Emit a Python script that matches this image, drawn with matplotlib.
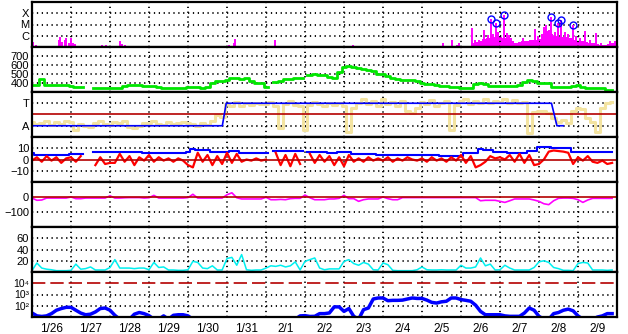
import numpy as np
import matplotlib
matplotlib.use("Agg")
import matplotlib.pyplot as plt

plt.rcParams['font.family'] = ['Liberation Sans', 'DejaVu Sans']

# days since 1/26 00:00, 3-hourly samples
t3 = np.arange(0, 15, 0.125)
day_labels = ['1/26', '1/27', '1/28', '1/29', '1/30', '1/31', '2/1', '2/2',
              '2/3', '2/4', '2/5', '2/6', '2/7', '2/8', '2/9']
nan = np.nan

# X-ray flux (log10 W/m2), spikes
xr_t = [0.03, 0.11, 0.54, 0.69, 0.73, 0.76, 0.85, 0.88, 0.95, 1.0, 1.05, 1.10, 1.15,
        1.35, 1.41, 1.79, 1.91, 2.04, 2.09, 2.26, 2.32, 2.38, 2.44, 2.85, 4.71, 5.05,
        5.09, 5.17, 5.21, 6.24, 8.22, 10.55, 10.77, 10.91, 10.95, 11.16, 11.29, 11.36,
        11.46, 11.60, 11.69, 11.77, 11.83, 11.90, 11.96, 12.03, 12.10, 12.18, 12.23,
        12.29, 12.59, 12.89, 12.97, 13.12, 13.19, 13.26, 13.31, 13.40, 13.48, 13.56,
        13.66, 13.74, 13.87, 13.96, 14.04, 14.17, 14.30, 14.47, 14.60, 14.83, 14.94]
xr_v = [-6.52, -6.79, -6.97, -6.42, -6.15, -6.58, -6.36, -6.21, -6.67, -6.18, -6.67,
        -6.73, -6.91, -6.91, -6.94, -6.79, -6.79, -6.94, -6.94, -6.45, -6.76, -6.82,
        -6.91, -6.97, -6.97, -6.79, -6.88, -6.67, -6.33, -6.42, -6.82, -6.61, -6.42,
        -6.79, -6.67, -6.88, -5.30, -6.42, -6.36, -5.45, -5.97, -4.55, -5.82, -4.91,
        -5.67, -6.58, -4.15, -5.76, -5.97, -6.18, -6.18, -5.36, -6.06, -5.21, -5.06,
        -5.45, -4.36, -5.67, -4.91, -4.64, -5.67, -5.82, -5.00, -6.06, -6.18, -5.61,
        -6.36, -5.76, -6.67, -6.48, -6.48]
# active-period background level, every 0.1 day from 11.1 to 15.0
xr_base_t = np.round(np.arange(11.1, 15.05, 0.1), 2)
xr_base_v = [-6.9, -6.88, -6.6, -6.55, -6.5, -6.3, -6.2, -6.1, -6.1, -6.15,
             -6.2, -6.25, -6.5, -6.6, -6.55, -6.45, -6.5, -6.4, -6.35, -6.3,
             -5.8, -5.6, -5.8, -6.0, -6.1, -6.1, -6.15, -6.2, -6.4, -6.45,
             -6.5, -6.55, -6.6, -6.65, -6.75, -6.85, -6.85, -6.7, -6.65, -6.6]
flare_t = [11.77, 11.90, 12.10, 13.31, 13.48, 13.56, 13.87]
flare_v = [-4.55, -4.91, -4.15, -4.36, -4.91, -4.64, -5.00]

# solar wind speed (km/s)
speed = [378, 380, 444, 375, 378, 380, 378, 376,
         362, 360, 358, nan, nan, 344, 344, 342,
         344, 342, 345, 368, 381, 383, 380, 372,
         367, 366, 360, 348, 344, 342, 344, 346,
         352, 354, 350, 342, 360, 395, 418, 425,
         428, 450, 455, 448, 452, 420, 405, 400,
         358, nan, 410, 420, 440, 448, 452, 458,
         nan, 490, 495, 490, 488, 465, 460, 520,
         580, 590, 575, 568, 555, 540, 532, 505,
         495, 480, 460, 445, 432, 430, 428, 420,
         395, 392, 385, 375, 365, 362, 360, 358,
         348, 342, 340, 385, 395, 390, 370, 372,
         372, 368, 370, 372, 375, 410, 432, 420,
         405, 400, 398, 360, 352, 352, 350, 372,
         376, 350, 348, 348, 346, 345, 322, 318]

# IMF angle (deg) and sector
phi = [120, 100, 110, 125, 95, 118, 100, 130,
       120, 60, 105, 90, 80, 110, 125, 100,
       95, 120, 110, 130, 80, 70, 85, 110,
       112, 128, 105, 95, 120, 100, 115, 118,
       115, 105, 88, 110, 95, 130, 175, 160,
       260, 250, 280, 245, 270, 255, 275, 265,
       265, 280, 250, 70, 262, 290, 255, 245,
       60, 255, 280, 265, 250, 275, 255, 268,
       250, 40, 230, 270, 300, 265, 285, 250,
       300, 260, 280, 245, 290, 210, 195, 230,
       280, 260, 295, 250, 270, 285, 60, 255,
       285, 300, 265, 290, 275, 305, 270, 290,
       280, 300, 270, 295, 270, 280, 35, 200,
       210, 205, 195, 150, 120, 135, 110, 210,
       230, 220, 150, 120, 40, 230, 270, 280]
sector_t = [0, 4.88, 4.98, 13.32, 13.46, 13.62]
sector_v = [90, 90, 270, 270, 90, 90]

# IMF Bt and Bz (nT)
bt = [5.5, 4, 4, 4, 4, 4.2, 4, 4,
      4.5, 4.5, 4.5, nan, nan, 6.4, 6.4, 6.4,
      6.4, 6.4, 7, 7, 7, 7, 7, 5.5,
      5.5, 5.5, 5.5, 5.5, 5.5, 5.5, 5.5, 6,
      7, 9.7, 8.5, 8.5, 8.5, 6.7, 7, 7,
      7, 8, 8, 5.5, 5.5, 5.5, 5.5, 5.5,
      5.5, nan, 7.5, 7.5, 7.5, 7.5, 7.5, 7.5,
      nan, 6.4, 6.4, 6.4, 6.4, 6, 6, 7,
      7, 7, 4.8, 4.8, 4.8, 4.8, 4.8, 3.6,
      3.6, 3.6, 3.6, 3.6, 3.6, 3.6, 3.6, 3.6,
      3.6, 3.6, 3.6, 3.6, 3, 3, 3, 3,
      3, 5.5, 5.5, 5.5, 9, 8.5, 8.5, 7,
      7, 7, 5.5, 5.5, 5.5, 5.5, 7.5, 7.5,
      11, 11, 11, 10, 10, 10, 10, 7,
      7, 7, 6.4, 6.4, 6.4, 6.4, 6.4, 6.4]
bz = [-1, 2, -2, 3, -1, 2, -3, 1,
      2, -2, 3, nan, nan, -5, 2, -4,
      -3, -3, 5, -2, 3, -5, 2, -1,
      4, -2, 2, -1, 1, -2, 1, -1,
      -5, -7, 6, -2, 4, -5, 3, -4,
      6, -3, 5, -2, 0, -1, 1, -1,
      0, nan, 6, -5, 4, -6, 5, -4,
      nan, 5, -3, 4, -2, 3, -5, 2,
      -6, 4, -2, 1, -2, 2, -1, 1,
      -1, 2, -2, 1, -1, 2, 0, -1,
      1, -2, 2, -1, 1, -2, 2, -1,
      4, -3, 3, -7, -5, -2, 3, 1,
      2, 0, 4, -2, 5, -3, 4, -5,
      -4, 0, 7, 8, 7.5, 7, 6, -4,
      2, -1, 3, -2, -3, -1, -4, -3]

# Dst (nT)
dst = [-7, -22, -20, -7, -7, -7, -7, -7,
       0, -11, -11, -7, -7, -7, -7, -7,
       8, -7, -7, -5, -4, -4, -4, -7,
       -5, 11, -7, -7, -7, -7, -7, -7,
       -4, 18, -7, -7, -7, -7, -7, -7,
       15, 28, -5, -13, -13, -13, -13, -13,
       -2, -18, -18, -16, -18, -11, -9, -9,
       13, -5, -18, -18, -18, -13, -13, -9,
       11, -11, -11, -29, -18, -13, -13, -13,
       0, -11, -18, -18, -4, -4, -4, -4,
       -4, -4, -4, -4, -4, -4, -4, -4,
       -4, -4, -4, -4, -25, -22, -22, -22,
       -29, -36, -25, -13, -13, -13, -13, -20,
       -29, -45, -51, -25, -9, -7, -7, -9,
       -18, -36, -20, -9, -9, -9, -9, -9]

# geomagnetic index (cyan)
cyan = [2.4, 16, 7, 5, 4, 2.4, 2.4, 2.4,
        3, 14, 5, 6, 9, 3.6, 3.6, 3.6,
        8, 22, 7, 7, 7, 6, 7, 7,
        4, 17, 8, 9, 3.6, 3.6, 3, 3,
        4, 19, 17, 7, 6, 11, 3.6, 3.6,
        24, 26, 12, 31, 4, 3, 3.6, 3.6,
        7, 11, 10, 12, 9, 11, 18, 3.6,
        19, 22, 25, 7, 4, 5.5, 5.5, 5.5,
        19, 22, 15, 12, 17, 14, 4, 3.6,
        16, 13, 3, 2.4, 2.4, 2.4, 2.4, 4,
        9, 4, 3.6, 3.6, 4, 3.6, 3.6, 3.6,
        12, 7, 7, 9, 25, 11, 14, 3.6,
        4, 12, 7, 3.6, 3.6, 3.6, 3.6, 8,
        18, 20, 17, 8, 6, 3, 3, 2.4,
        15, 17, 16, 3.6, 3.6, 3.6, 3, 3.6]

# electron flux (log10)
elec = [1.36, 1.1, 1.05, 1.1, 1.3, 1.6, 1.75, 1.86,
        1.86, 1.6, 1.35, 1.2, 1.25, 1.45, 1.75, 1.8,
        1.6, 1.15, 0.8, 0.8, 0.8, 1.25, 1.4, 1.3,
        1.12, 0.8, 0.8, 1.1, 0.8, 1.15, 1.2, 1.2,
        1.1, 0.8, 0.8, 0.8, 0.8, 0.8, 0.8, 0.8,
        0.8, 0.8, 0.8, 0.8, 0.8, 0.8, 0.8, 0.8,
        0.8, 0.8, 0.8, 0.8, 0.8, 0.8, 0.8, 1.1,
        1.12, 1.05, 1.06, 1.3, 1.3, 1.36, 1.9, 1.9,
        1.5, 1.75, 1.06, 0.8, 1.65, 1.8, 2.6, 2.69,
        2.69, 2.45, 2.48, 2.48, 2.5, 2.6, 2.69, 2.65,
        2.65, 2.5, 2.3, 2.24, 2.35, 2.4, 2.69, 2.69,
        2.55, 2.48, 2.4, 2.05, 1.5, 1.2, 1.2, 1.2,
        1.2, 1.1, 1.06, 1.06, 1.06, 1.35, 1.8, 1.6,
        1.06, 0.8, 0.8, 1.3, 1.4, 1.6, 1.7, 1.55,
        1.1, 0.8, 0.8, 0.8, 1.0, 1.1, 1.3, 1.3]

dot = (0, (0.7, 2.0))
darkred = '#b40000'

fig, axes = plt.subplots(7, 1, sharex=True, figsize=(6.28, 3.34), dpi=100)
fig.subplots_adjust(left=32/628, right=617/628, top=1-2/334, bottom=1-317/334, hspace=0)

for ax in axes:
    for s in ax.spines.values():
        s.set_linewidth(1.6)
    ax.set_xlim(0, 15)
    ax.set_xticks(range(16))
    ax.set_xticks(np.arange(0.5, 15, 1), minor=True)
    ax.tick_params(which='both', length=0, labelsize=8, pad=2)
    ax.tick_params(axis='x', which='major', labelbottom=False)
    ax.grid(axis='x', which='major', color='k', linestyle=dot, lw=1.3)

def hgrid(ax, levels):
    for v in levels:
        ax.axhline(v, color='k', linestyle=dot, lw=1.3, zorder=0.5)

# 1: X-ray
ax = axes[0]
ax.set_yscale('log')
ax.fill_between(xr_base_t, 1e-8, 10**np.array(xr_base_v), step='mid', color='#ff00ff', lw=0)
ax.vlines(xr_t, 1e-8, 10**np.array(xr_v), color='#ff00ff', lw=1.4)
ax.plot(flare_t, 10**np.array(flare_v), 'o', mfc='none', mec='#0000ff', ms=5, mew=1)
ax.set_ylim(1e-7, 1e-3)
ax.set_yticks([1e-6, 1e-5, 1e-4], ['C', 'M', 'X'])
ax.yaxis.set_minor_locator(matplotlib.ticker.NullLocator())
hgrid(ax, [1e-6, 1e-5, 1e-4])

# 2: speed
ax = axes[1]
ax.plot(t3, speed, color='#00e600', lw=2, drawstyle='steps-mid')
ax.set_ylim(300, 800)
ax.set_yticks([400, 500, 600, 700])
hgrid(ax, [400, 500, 600, 700])

# 3: phi and sector
ax = axes[2]
ax.plot(t3, phi, color='#f3e3a0', lw=2.2, drawstyle='steps-mid')
ax.axhline(180, color=darkred, lw=1.2)
ax.plot(sector_t, sector_v, color='#0000ff', lw=1.2)
ax.set_ylim(0, 360)
ax.set_yticks([90, 270], ['A', 'T'])
hgrid(ax, [90, 270])

# 4: Bt, Bz
ax = axes[3]
ax.plot(t3, bt, color='#0000ff', lw=1.5, drawstyle='steps-mid')
ax.plot(t3, bz, color='#ff0000', lw=1.6)
ax.axhline(0, color=darkred, lw=1.2)
ax.set_ylim(-20, 20)
ax.set_yticks([-10, 0, 10])
hgrid(ax, [-10, 10])

# 5: Dst
ax = axes[4]
ax.plot(t3, dst, color='#ff00ff', lw=1.2)
ax.axhline(0, color=darkred, lw=1.2)
ax.set_ylim(-200, 100)
ax.set_yticks([-100, 0])
hgrid(ax, [-100])

# 6: cyan index
ax = axes[5]
ax.plot(t3, cyan, color='#00f0f0', lw=1.1)
ax.set_ylim(0, 80)
ax.set_yticks([20, 40, 60])
hgrid(ax, [20, 40, 60])

# 7: electrons
ax = axes[6]
ax.set_yscale('log')
ax.plot(t3, 10**np.array(elec), color='#0000ff', lw=2.5)
ax.axhline(1e4, color=darkred, lw=1.2, linestyle=(0, (8, 3)))
ax.set_ylim(1e1, 1e5)
ax.set_yticks([1e2, 1e3, 1e4], ['10\u00b2', '10\u00b3', '10\u2074'])
ax.yaxis.set_minor_locator(matplotlib.ticker.NullLocator())
ax.tick_params(axis='y', labelsize=7.5)
hgrid(ax, [1e2, 1e3])
ax.set_xticks(np.arange(0.5, 15, 1), day_labels, minor=True)
ax.tick_params(axis='x', which='minor', labelbottom=True, labelsize=8.5, pad=4)

fig.savefig('out.png', dpi=100)
